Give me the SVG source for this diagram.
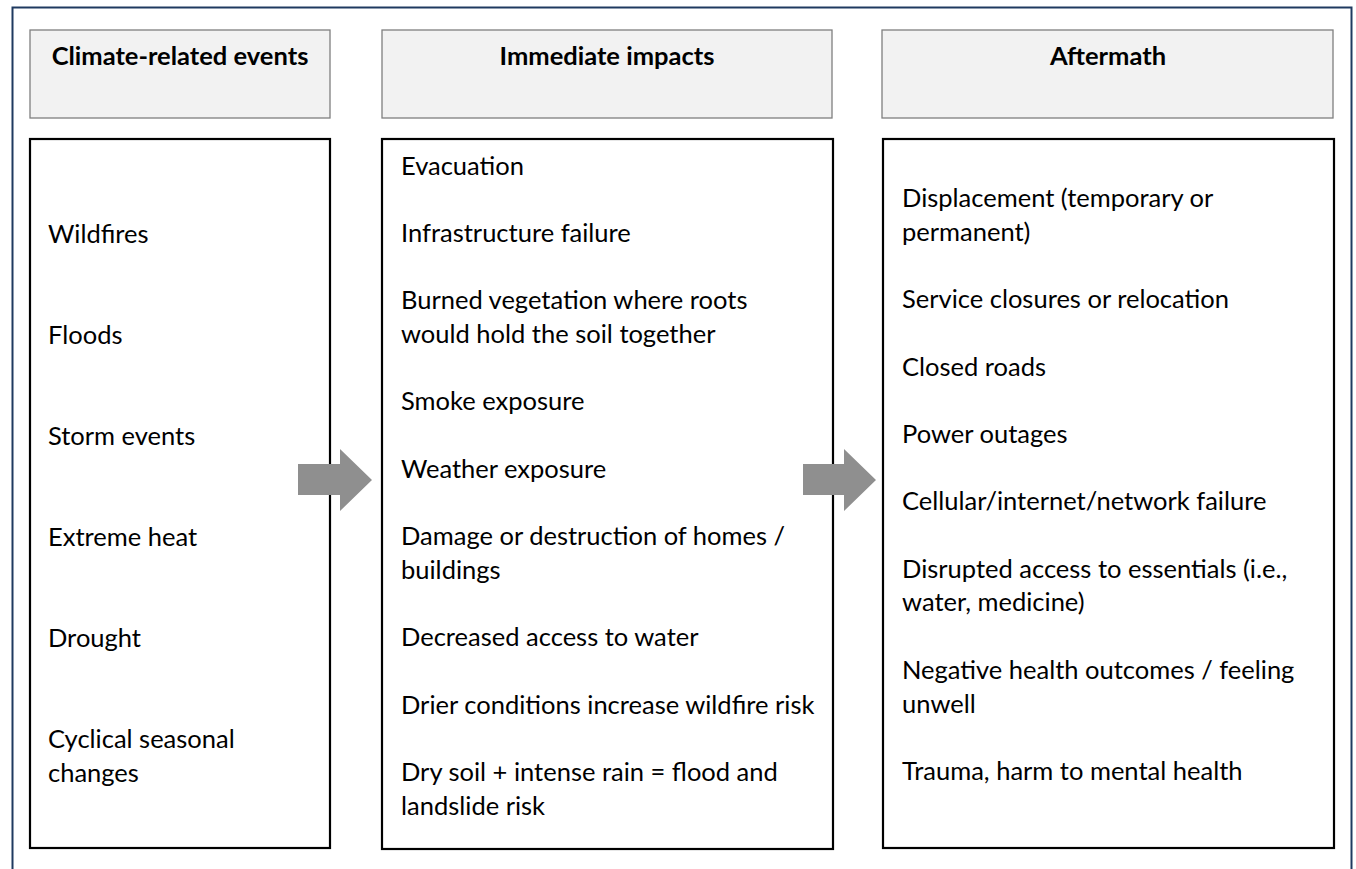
<svg xmlns="http://www.w3.org/2000/svg" width="1356" height="869" viewBox="0 0 1356 869">
  <style>
    .frame { fill: #ffffff; stroke: #1f3a60; stroke-width: 2; }
    .head { fill: #f2f2f2; stroke: #7f7f7f; stroke-width: 1.3; }
    .body { fill: #ffffff; stroke: #000000; stroke-width: 2.2; }
    .ht { font-family: Lato, "Liberation Sans", sans-serif; font-weight: bold; font-size: 25.5px; fill: #000; text-anchor: middle; }
    .t { font-family: Lato, "Liberation Sans", sans-serif; font-size: 25.5px; fill: #000; }
    .arrow { fill: #8f8f8f; }
  </style>

  <!-- outer frame -->
  <rect class="frame" x="12.5" y="7.5" width="1339" height="880"/>

  <!-- column headers -->
  <g id="head-events">
    <rect class="head" x="30" y="30" width="300" height="88"/>
    <text class="ht" x="180" y="65">Climate-related events</text>
  </g>
  <g id="head-impacts">
    <rect class="head" x="382" y="30" width="450" height="88"/>
    <text class="ht" x="607" y="65">Immediate impacts</text>
  </g>
  <g id="head-aftermath">
    <rect class="head" x="882" y="30" width="451" height="88"/>
    <text class="ht" x="1108" y="65">Aftermath</text>
  </g>

  <!-- column bodies -->
  <g id="events">
    <rect class="body" x="30" y="139" width="300" height="709"/>
    <text class="t" x="48" y="242.7">Wildfires</text>
    <text class="t" x="48" y="343.8">Floods</text>
    <text class="t" x="48" y="444.9">Storm events</text>
    <text class="t" x="48" y="546">Extreme heat</text>
    <text class="t" x="48" y="647.1">Drought</text>
    <text class="t" x="48" y="748.2">Cyclical seasonal</text>
    <text class="t" x="48" y="781.9">changes</text>
  </g>

  <g id="impacts">
    <rect class="body" x="382" y="139" width="451" height="710"/>
    <text class="t" x="401" y="174.5">Evacuation</text>
    <text class="t" x="401" y="241.9">Infrastructure failure</text>
    <text class="t" x="401" y="309.3">Burned vegetation where roots</text>
    <text class="t" x="401" y="343">would hold the soil together</text>
    <text class="t" x="401" y="410.4">Smoke exposure</text>
    <text class="t" x="401" y="477.8">Weather exposure</text>
    <text class="t" x="401" y="545.2">Damage or destruction of homes /</text>
    <text class="t" x="401" y="578.9">buildings</text>
    <text class="t" x="401" y="646.3">Decreased access to water</text>
    <text class="t" x="401" y="713.7">Drier conditions increase wildfire risk</text>
    <text class="t" x="401" y="781.1">Dry soil + intense rain = flood and</text>
    <text class="t" x="401" y="814.8">landslide risk</text>
  </g>

  <g id="aftermath">
    <rect class="body" x="883" y="139" width="451" height="709"/>
    <text class="t" x="902" y="207">Displacement (temporary or</text>
    <text class="t" x="902" y="240.7">permanent)</text>
    <text class="t" x="902" y="308.1">Service closures or relocation</text>
    <text class="t" x="902" y="375.5">Closed roads</text>
    <text class="t" x="902" y="442.9">Power outages</text>
    <text class="t" x="902" y="510.3">Cellular/internet/network failure</text>
    <text class="t" x="902" y="577.7">Disrupted access to essentials (i.e.,</text>
    <text class="t" x="902" y="611.4">water, medicine)</text>
    <text class="t" x="902" y="678.8">Negative health outcomes / feeling</text>
    <text class="t" x="902" y="712.5">unwell</text>
    <text class="t" x="902" y="779.9">Trauma, harm to mental health</text>
  </g>

  <!-- block arrows between columns -->
  <g id="connectors">
    <polygon class="arrow" points="298,464 340,464 340,449 372,480 340,511 340,495 298,495"/>
    <polygon class="arrow" points="803,464 844,464 844,449 876,480 844,511 844,495 803,495"/>
  </g>
</svg>
